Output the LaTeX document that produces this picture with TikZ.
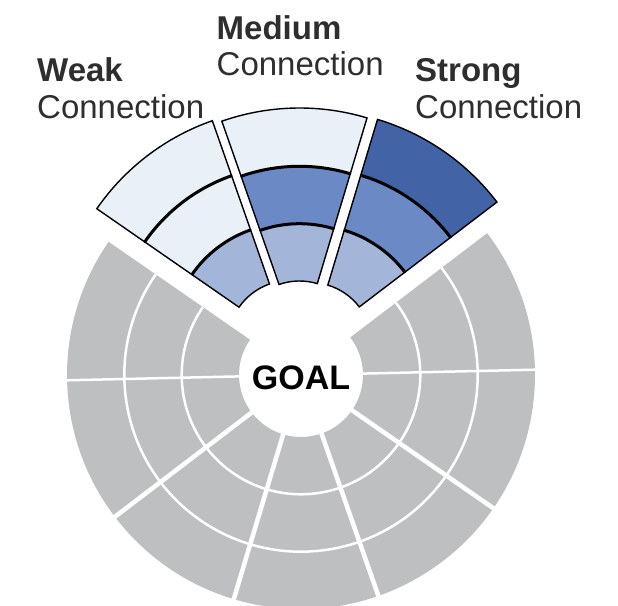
\documentclass[tikz,border=0pt]{standalone}
\usepackage{fontspec}
\setmainfont{Liberation Sans}

\definecolor{wheelgray}{HTML}{BEBFC1}
\definecolor{wheelpale}{HTML}{EAF0F8}
\definecolor{wheellight}{HTML}{A4B5DA}
\definecolor{wheelmid}{HTML}{6B8AC5}
\definecolor{wheeldark}{HTML}{4264A6}
\definecolor{labeltext}{HTML}{2E2E2E}

% one ring piece of a sector: centre, start, end, inner radius, outer radius, fill
\newcommand{\bandpiece}[6]{%
  \filldraw[band, fill=#6] ([shift={(#2:#4pt)}]#1) arc[start angle=#2, end angle=#3, radius=#4pt]
    -- ([shift={(#3:#5pt)}]#1) arc[start angle=#3, end angle=#2, radius=#5pt] -- cycle;}

\begin{document}
\begin{tikzpicture}[x=1pt, y=1pt,
    band/.style={draw=black, line width=1.4pt, line join=miter},
    ringline/.style={draw=black, line width=3pt},
    gapline/.style={draw=white, line width=4.5pt},
    thingap/.style={draw=white, line width=2.5pt},
    heading/.style={anchor=base west, inner sep=0pt, text=labeltext,
      font=\fontsize{33}{38}\selectfont}]
  \useasboundingbox (0,0) rectangle (618,605);

  % Centres: the wheel and the three pulled-out sectors
  \coordinate (goal) at (301,230);
  \coordinate (weakc) at (290,262.5);
  \coordinate (medc) at (299.5,262);
  \coordinate (strongc) at (310,260.5);

  % Grey part of the wheel
  \fill[wheelgray] ([shift={(145.3:62pt)}]goal) arc[start angle=145.3, end angle=397.3, radius=62pt]
    -- ([shift={(37.3:234pt)}]goal) arc[start angle=397.3, end angle=145.3, radius=234pt] -- cycle;
  \foreach \r in {119.3pt,176.7pt}
    \draw[thingap] ([shift={(145.3:\r)}]goal) arc[start angle=145.3, end angle=397.3, radius=\r];
  \foreach \a in {217.3,253.3,289.3,325.3}
    \draw[gapline] ([shift={(\a:58pt)}]goal) -- ([shift={(\a:238pt)}]goal);
  \foreach \a in {181.3,361.3}
    \draw[thingap] ([shift={(\a:58pt)}]goal) -- ([shift={(\a:238pt)}]goal);

  % Weak connection
  \bandpiece{weakc}{109.3}{145.3}{62}{119.3}{wheellight}
  \bandpiece{weakc}{109.3}{145.3}{119.3}{176.7}{wheelpale}
  \bandpiece{weakc}{109.3}{145.3}{176.7}{235}{wheelpale}

  % Medium connection
  \bandpiece{medc}{73.3}{109.3}{62}{119.3}{wheellight}
  \bandpiece{medc}{73.3}{109.3}{119.3}{176.7}{wheelmid}
  \bandpiece{medc}{73.3}{109.3}{176.7}{235}{wheelpale}

  % Strong connection
  \bandpiece{strongc}{37.3}{73.3}{62}{119.3}{wheellight}
  \bandpiece{strongc}{37.3}{73.3}{119.3}{176.7}{wheelmid}
  \bandpiece{strongc}{37.3}{73.3}{176.7}{235}{wheeldark}

  % Heavy lines between the rings
  \foreach \c/\a in {weakc/109.3, medc/73.3, strongc/37.3}
    \foreach \r in {119.3pt,176.7pt}
      \draw[ringline] ([shift={(\a:\r)}]\c) arc[start angle=\a, end angle=\a+36, radius=\r];

  % Centre label
  \node[font=\fontsize{34}{38}\selectfont\bfseries] (goaltext) at (301,227) {GOAL};

  % Sector labels
  \node[heading, font=\fontsize{33}{38}\selectfont\bfseries] (weaktitle) at (37,523) {Weak};
  \node[heading] (weakconn) at (37,486.7) {Connection};
  \node[heading, font=\fontsize{33}{38}\selectfont\bfseries] (medtitle) at (216.5,565.7) {Medium};
  \node[heading] (medconn) at (216.5,529) {Connection};
  \node[heading, font=\fontsize{33}{38}\selectfont\bfseries] (strongtitle) at (415,523) {Strong};
  \node[heading] (strongconn) at (415,486.7) {Connection};
\end{tikzpicture}
\end{document}
